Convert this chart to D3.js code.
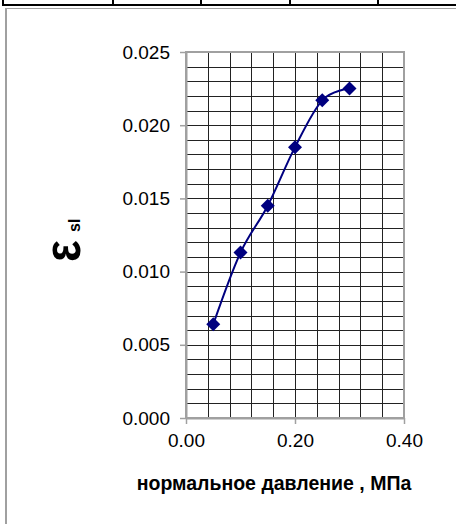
<!DOCTYPE html>
<html>
<head>
<meta charset="utf-8">
<script src="https://cdn.jsdelivr.net/npm/d3@7"></script>
<style>
  html, body { margin: 0; padding: 0; background: #fff; }
  svg { display: block; font-family: "Liberation Sans", Arial, sans-serif; }
</style>
</head>
<body>
<svg id="chart" width="456" height="524"></svg>
<script>
// ---- data ----
const pressure = [0.05, 0.10, 0.15, 0.20, 0.25, 0.30];
const strain = [0.0064, 0.0113, 0.0145, 0.0185, 0.0217, 0.0225];
const xTickValues = [0, 0.2, 0.4];
const yTickValues = [0, 0.005, 0.010, 0.015, 0.020, 0.025];
const xTitle = "нормальное давление , МПа";
const yTitleMain = "ε";
const yTitleSub = "sl";

const svg = d3.select("#chart");

// ---- page decorations (table border around the chart) ----
svg.append("rect").attr("x", 3).attr("y", 4).attr("width", 453).attr("height", 2).attr("fill", "#000");
[3, 113, 201, 290, 378].forEach(px => {
  svg.append("rect").attr("x", px - 1).attr("y", 0).attr("width", 2).attr("height", 6).attr("fill", "#000");
});
svg.append("rect").attr("x", 5).attr("y", 8).attr("width", 451).attr("height", 1).attr("fill", "#a0a0a0");
svg.append("rect").attr("x", 5).attr("y", 8).attr("width", 2).attr("height", 516).attr("fill", "#a0a0a0");

// ---- scales ----
const x = d3.scaleLinear().domain([0, 0.4]).range([186, 404]);
const y = d3.scaleLinear().domain([0, 0.025]).range([418, 52]);

// ---- gridlines ----
const grid = svg.append("g");
const hMinor = d3.range(0, 26).map(i => i * 0.001);
const vMinor = d3.range(0, 11).map(i => i * 0.04);
grid.selectAll("line.h").data(hMinor).join("line")
  .attr("x1", x(0)).attr("x2", x(0.4))
  .attr("y1", d => Math.round(y(d)) + 0.5).attr("y2", d => Math.round(y(d)) + 0.5)
  .attr("stroke", "#222").attr("stroke-width", 1);
grid.selectAll("line.v").data(vMinor).join("line")
  .attr("y1", y(0.025)).attr("y2", y(0))
  .attr("x1", d => Math.round(x(d)) + 0.5).attr("x2", d => Math.round(x(d)) + 0.5)
  .attr("stroke", "#222").attr("stroke-width", 1);

// plot border
svg.append("rect")
  .attr("x", x(0)).attr("y", y(0.025))
  .attr("width", x(0.4) - x(0)).attr("height", y(0) - y(0.025))
  .attr("fill", "none").attr("stroke", "#a0a0a0").attr("stroke-width", 2);

// ---- axes ----
const yAxis = d3.axisLeft(y).tickValues(yTickValues).tickFormat(d3.format(".3f")).tickSizeInner(6).tickSizeOuter(0).tickPadding(10);
const gy = svg.append("g").attr("transform", `translate(${x(0)},0)`).call(yAxis);
const xAxis = d3.axisBottom(x).tickValues(xTickValues).tickFormat(d3.format(".2f")).tickSizeInner(6).tickSizeOuter(0).tickPadding(10);
const gx = svg.append("g").attr("transform", `translate(0,${y(0)})`).call(xAxis);
[gx, gy].forEach(g => {
  g.select(".domain").attr("stroke", "#a0a0a0").attr("stroke-width", 2);
  g.selectAll(".tick line").attr("stroke", "#a0a0a0").attr("stroke-width", 1.5);
  g.selectAll(".tick text").attr("font-size", 19).attr("fill", "#000")
    .attr("font-family", "'Liberation Sans', Arial, sans-serif");
});

// ---- series ----
const pts = pressure.map((p, i) => [p, strain[i]]);
const line = d3.line().x(d => x(d[0])).y(d => y(d[1])).curve(d3.curveCatmullRom.alpha(0));
svg.append("path").datum(pts).attr("d", line)
  .attr("fill", "none").attr("stroke", "#000080").attr("stroke-width", 2);

const r = 7;
svg.selectAll("path.marker").data(pts).join("path")
  .attr("class", "marker")
  .attr("d", d => `M${x(d[0])},${y(d[1]) - r}L${x(d[0]) + r},${y(d[1])}L${x(d[0])},${y(d[1]) + r}L${x(d[0]) - r},${y(d[1])}Z`)
  .attr("fill", "#000080");

// ---- titles ----
svg.append("text")
  .attr("x", 274).attr("y", 490)
  .attr("text-anchor", "middle")
  .attr("font-size", 19.5).attr("font-weight", "bold")
  .text(xTitle);

svg.append("text")
  .attr("transform", "translate(80,262) rotate(-90) scale(1,1.12)")
  .attr("font-weight", "bold").attr("font-size", 46)
  .text(yTitleMain);
svg.append("text")
  .attr("transform", "translate(80,232) rotate(-90)")
  .attr("font-weight", "bold").attr("font-size", 16)
  .text(yTitleSub);
</script>
</body>
</html>
